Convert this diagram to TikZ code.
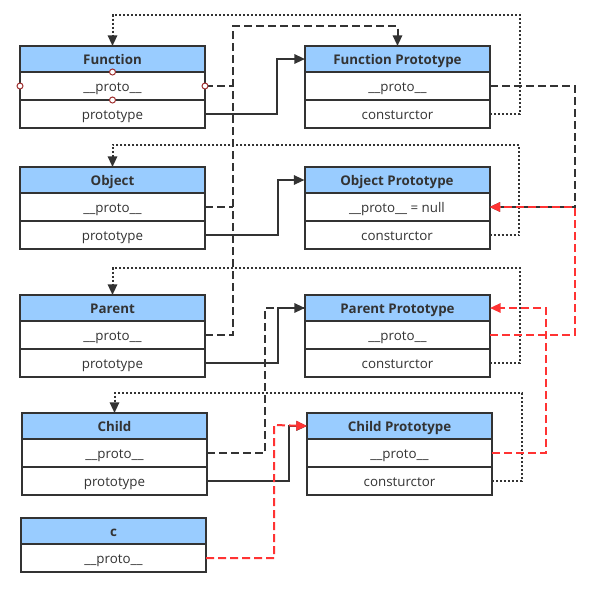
\documentclass[tikz,border=0pt]{standalone}
\usepackage{fontspec}
\setmainfont{Open Sans}
\usetikzlibrary{arrows.meta}
\definecolor{lc}{HTML}{333333}
\definecolor{hb}{HTML}{99CCFF}
\definecolor{rd}{HTML}{FF3333}
\definecolor{mk}{HTML}{A03030}
\begin{document}
\begin{tikzpicture}[x=0.75pt,y=-0.75pt,
  box/.style={draw=lc, line width=1.5pt, minimum width=138.75pt, inner sep=0pt, outer sep=0pt, anchor=north, text=lc, text height=8.5pt, text depth=1pt, font=\fontsize{10}{12}\selectfont},
  hdr/.style={box, fill=hb, minimum height=19.5pt, font=\fontsize{10}{12}\selectfont\bfseries},
  row/.style={box, fill=white, minimum height=21pt},
  conn/.style={line width=1.5pt, draw=lc},
  tip/.style={-{Triangle[length=8pt,width=7pt]}},
  dsh/.style={conn, dash pattern=on 6pt off 3pt},
  dtt/.style={conn, dash pattern=on 1.5pt off 1.5pt},
  red/.style={conn, draw=rd, dash pattern=on 6pt off 3pt, -{Triangle[length=8pt,width=7pt,fill=rd]}},
  marker/.style={draw=mk, fill=white, line width=0.75pt}
]
\useasboundingbox (0,0) rectangle (595,601);
\fill[white] (0,0) rectangle (595,601);

% Function
\node[hdr] (fnh) at (112.5,46) {Function};
\node[row] (fn1) at (fnh.south) {\_\_proto\_\_};
\node[row] (fn2) at (fn1.south) {prototype};
% Function Prototype
\node[hdr] (fph) at (397.5,46) {Function Prototype};
\node[row] (fp1) at (fph.south) {\_\_proto\_\_};
\node[row] (fp2) at (fp1.south) {consturctor};
% Object
\node[hdr] (obh) at (112.5,167) {Object};
\node[row] (ob1) at (obh.south) {\_\_proto\_\_};
\node[row] (ob2) at (ob1.south) {prototype};
% Object Prototype
\node[hdr] (oph) at (397,167) {Object Prototype};
\node[row] (op1) at (oph.south) {\_\_proto\_\_ = null};
\node[row] (op2) at (op1.south) {consturctor};
% Parent
\node[hdr] (pah) at (112.5,295) {Parent};
\node[row] (pa1) at (pah.south) {\_\_proto\_\_};
\node[row] (pa2) at (pa1.south) {prototype};
% Parent Prototype
\node[hdr] (pph) at (397.5,295) {Parent Prototype};
\node[row] (pp1) at (pph.south) {\_\_proto\_\_};
\node[row] (pp2) at (pp1.south) {consturctor};
% Child
\node[hdr] (chh) at (114.5,413) {Child};
\node[row] (ch1) at (chh.south) {\_\_proto\_\_};
\node[row] (ch2) at (ch1.south) {prototype};
% Child Prototype
\node[hdr] (cph) at (399.5,413) {Child Prototype};
\node[row] (cp1) at (cph.south) {\_\_proto\_\_};
\node[row] (cp2) at (cp1.south) {consturctor};
% c
\node[hdr] (ch) at (113.5,518) {c};
\node[row] (c1) at (ch.south) {\_\_proto\_\_};

\coordinate (vx) at (233,0);

% dotted constructor links
\draw[dtt,tip] (fp2.east) -| (520,15) -| (fnh.north);
\draw[dtt,tip] (op2.east) -| (519,145) -| (obh.north);
\draw[dtt,tip] (pp2.east) -| (520,268) -| (pah.north);
\draw[dtt,tip] (cp2.east) -| (522,393) -| (chh.north);

% dark dashed __proto__ links
\draw[dsh] (fn1.east) -- (fn1.east -| vx);
\draw[dsh] (ob1.east) -- (ob1.east -| vx);
\draw[dsh,tip] (pa1.east) -| (233,26) -| (fph.north);
\draw[dsh,tip] (fp1.east) -| (575,207) -- (op1.east);
\draw[dsh] (ch1.east) -| (265,308) -- (pph.west);

% solid prototype links
\draw[conn,tip] (fn2.east) -| (277,59) -- (fph.west);
\draw[conn,tip] (ob2.east) -| (278,180) -- (oph.west);
\draw[conn,tip] (pa2.east) -| (278,308) -- (pph.west);
\draw[conn,tip] (ch2.east) -| (289,426) -- (cph.west);

% red dashed links
\draw[red] (pp1.east) -| (575,207) -- (op1.east);
\draw[red] (cp1.east) -| (546,308) -- (pph.east);
\draw[red] (c1.east) -| (274,425) -- (cph.west);

% connection point markers on Function
\draw[marker] (fnh.south) circle[radius=3];
\draw[marker] (fn1.south) circle[radius=3];
\draw[marker] (fn1.west) circle[radius=3];
\draw[marker] (fn1.east) circle[radius=3];
\end{tikzpicture}
\end{document}
